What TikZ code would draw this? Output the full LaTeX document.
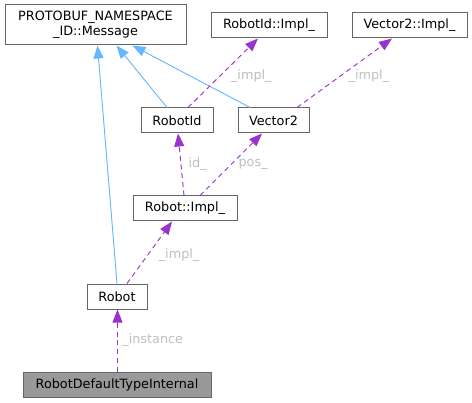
\documentclass[tikz,border=0pt]{standalone}
\usepackage{fontspec}
\setmainfont{DejaVu Sans}
\usetikzlibrary{arrows.meta,calc}
\definecolor{boxline}{HTML}{666666}
\definecolor{inherit}{HTML}{63B8FF}
\definecolor{usage}{HTML}{9A32CD}
\definecolor{edgelabel}{HTML}{BEBEBE}
\begin{document}
\begin{tikzpicture}[x=0.75pt, y=-0.75pt,
  cls/.style={draw=boxline, line width=0.75pt, fill=white, inner sep=0pt,
    minimum height=18.75pt, font=\fontsize{9.6}{11.25}\selectfont},
  base/.style={-{Triangle[length=9.75pt,width=7.5pt]}, draw=inherit, line width=0.7pt},
  member/.style={-{Triangle[length=9.75pt,width=7.5pt]}, draw=usage, line width=0.7pt,
    dash pattern=on 3.75pt off 2.8pt},
  lbl/.style={right, text=edgelabel, font=\fontsize{9.6}{11.25}\selectfont}]
\useasboundingbox (0,0) rectangle (472,403);
\node[cls, minimum width=135.75pt, minimum height=30pt, align=center] (msg) at (95.5,25)
  {PROTOBUF\_NAMESPACE\\\_ID::Message};
\node[cls, minimum width=87pt] (ridimpl) at (269,25.5) {RobotId::Impl\_};
\node[cls, minimum width=86.25pt] (vecimpl) at (409.5,25.5) {Vector2::Impl\_};
\node[cls, minimum width=54pt] (rid) at (177,120.5) {RobotId};
\node[cls, minimum width=53.25pt] (vec) at (273.5,120.5) {Vector2};
\node[cls, minimum width=78pt] (robimpl) at (185,208.5) {Robot::Impl\_};
\node[cls, minimum width=45pt] (robot) at (117,296.5) {Robot};
\node[cls, minimum width=141pt, fill={rgb,255:red,153;green,153;blue,153}] (rdti) at (117,384.5)
  {RobotDefaultTypeInternal};
% inheritance
\draw[base] (robot.north) -- ($(msg.south)+(2,0)$);
\draw[base] ($(rid.north)+(-10,0)$) -- ($(msg.south)+(21,0)$);
\draw[base] ($(vec.north)+(-23.5,0)$) -- ($(msg.south)+(37,0)$);
% members
\draw[member] ($(rid.north)+(11,0)$) -- ($(ridimpl.south)+(-11,0)$)
  node[lbl, pos=0.45, xshift=5pt] {\_impl\_};
\draw[member] ($(vec.north)+(23.5,0)$) -- ($(vecimpl.south)+(-17.5,0)$)
  node[lbl, pos=0.45, xshift=3pt] {\_impl\_};
\draw[member] ($(robimpl.north)+(-1,0)$) -- ($(rid.south)+(1,0)$)
  node[lbl, midway, xshift=2pt] {id\_};
\draw[member] ($(robimpl.north)+(15,0)$) -- ($(vec.south)+(-11.5,0)$)
  node[lbl, midway, xshift=2pt] {pos\_};
\draw[member] ($(robot.north)+(10,0)$) -- ($(robimpl.south)+(-13,0)$)
  node[lbl, pos=0.45, xshift=5pt] {\_impl\_};
\draw[member] ($(rdti.north)+(0.5,0)$) -- ($(robot.south)+(0.5,0)$)
  node[lbl, midway] {\_instance};
\end{tikzpicture}
\end{document}
